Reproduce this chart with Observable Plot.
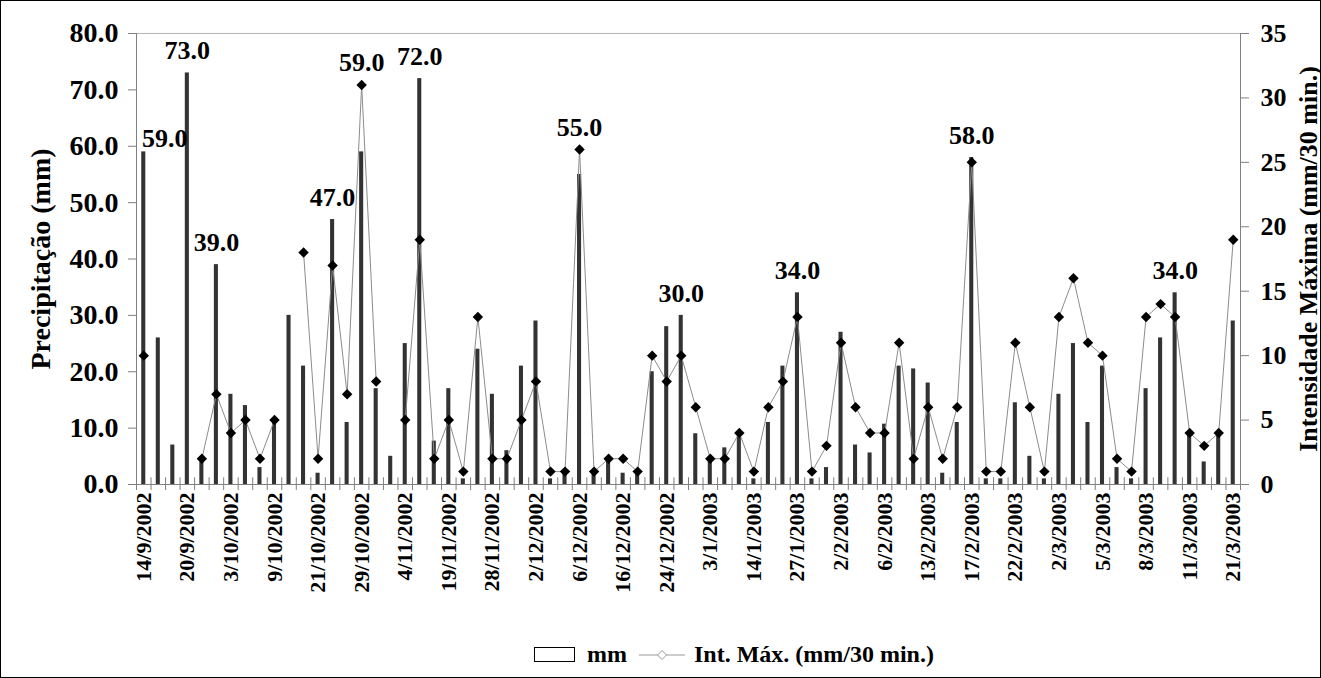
<!DOCTYPE html>
<html><head><meta charset="utf-8">
<script src="https://cdn.jsdelivr.net/npm/d3@7"></script>
<script src="https://cdn.jsdelivr.net/npm/@observablehq/plot@0.6"></script>
<style>
html,body{margin:0;padding:0;background:#fff;}
#frame{position:relative;width:1321px;height:678px;overflow:hidden;font-family:"Liberation Serif","Times New Roman",serif;background:#fff;}
#chart svg{display:block;}
#border{position:absolute;left:0;top:0;width:1321px;height:678px;box-sizing:border-box;border:1px solid #000;pointer-events:none;}
#legend{position:absolute;left:533px;top:641px;display:flex;align-items:center;font-weight:bold;font-size:24px;color:#000;white-space:nowrap;}
#legend svg{display:block;}
</style></head><body>
<div id="frame"><div id="chart"></div><div id="legend"></div><div id="border"></div></div>
<script>
// Precipitação (mm) per event
const mm = [59,26,7,73,4,39,16,14,3,11,30,21,2,47,11,59,17,5,25,72,7.7,17,1,24,16,6,21,29,1,2,55,2,4,2,2,20,28,30,9,4,6.5,9,1,11,21,34,1,3,27,7,5.6,10.7,21,20.5,18,2,11,58,1,1,14.5,5,1,16,25,11,21,3,1,17,26,34,9,4,9,29];
// Int. Máx. (mm/30 min.) per event (null = no value)
const intensity = [10,null,null,null,2,7,4,5,2,5,null,18,2,17,7,31,8,null,5,19,2,5,1,13,2,2,5,8,1,1,26,1,2,2,1,10,8,10,6,2,2,4,1,6,8,13,1,3,11,6,4,4,11,2,6,2,6,25,1,1,11,6,1,13,16,11,10,2,1,13,14,13,4,3,4,19];
// category labels shown (every 3rd event)
const dateLabels = ["14/9/2002","20/9/2002","3/10/2002","9/10/2002","21/10/2002","29/10/2002","4/11/2002","19/11/2002","28/11/2002","2/12/2002","6/12/2002","16/12/2002","24/12/2002","3/1/2003","14/1/2003","27/1/2003","2/2/2003","6/2/2003","13/2/2003","17/2/2003","22/2/2003","2/3/2003","5/3/2003","8/3/2003","11/3/2003","21/3/2003"];
const labelStep = 3;
const labeledBars = [0,3,5,13,15,19,30,37,45,57,71];
const leftTicks = [0,10,20,30,40,50,60,70,80];
const rightTicks = [0,5,10,15,20,25,30,35];
const legendItems = ["mm","Int. Máx. (mm/30 min.)"];

const mmMax = 80, intMax = 35;
const k = mmMax / intMax;
const idx = d3.range(mm.length);
const pts = idx.filter(i => intensity[i] != null);
const bounds = d3.range(mm.length + 1).map(i => i - 0.5);
const axisGray = "#808080";
const labelTop = i => Math.max(mm[i], (intensity[i] ?? 0) * k);
const firstLabel = labeledBars.filter(i => i === 0);
const otherLabels = labeledBars.filter(i => i !== 0);

const chart = Plot.plot({
  width: 1321, height: 635,
  marginLeft: 136, marginRight: 81, marginTop: 33, marginBottom: 151,
  style: {fontFamily: '"Liberation Serif", "Times New Roman", serif', fontWeight: "bold", fontSize: "25px", color: "#000", background: "transparent", overflow: "visible"},
  x: {type: "linear", domain: [-0.5, mm.length - 0.5]},
  y: {domain: [0, mmMax]},
  marks: [
    Plot.ruleY([mmMax], {stroke: "#b4b4b4"}),
    Plot.rectY(idx, {x1: i => i - 0.14, x2: i => i + 0.14, y1: 0, y2: i => mm[i], fill: "#333"}),
    Plot.axisX(bounds, {tickSize: 6, tickFormat: () => "", stroke: axisGray, label: null}),
    Plot.ruleX(bounds, {y1: 0, y2: 1.2, stroke: axisGray}),
    Plot.axisX(d3.range(0, mm.length, labelStep), {tickSize: 0, tickPadding: 8, tickRotate: -90, tickFormat: i => dateLabels[i / labelStep], fontSize: 22, fontWeight: "bold", label: null}),
    Plot.axisY(leftTicks, {anchor: "left", tickSize: 8, tickPadding: 10, tickFormat: d => d.toFixed(1), fontSize: 28, fontWeight: "bold", stroke: axisGray, label: "Precipitação (mm)", labelAnchor: "center", labelOffset: 106, labelArrow: false}),
    Plot.axisY(rightTicks.map(v => v * k), {anchor: "right", tickSize: 8, tickPadding: 12, tickFormat: d => String(Math.round(d / k)), fontSize: 26, fontWeight: "bold", stroke: axisGray, label: "Intensidade Máxima (mm/30 min.)", labelAnchor: "center", labelOffset: 76, labelArrow: false}),
    Plot.ruleX([-0.5, mm.length - 0.5], {stroke: axisGray}),
    Plot.ruleY([0], {stroke: axisGray}),
    Plot.line(idx, {x: i => i, y: i => intensity[i] == null ? NaN : intensity[i] * k, stroke: "#8c8c8c", strokeWidth: 1}),
    Plot.dot(pts, {x: i => i, y: i => intensity[i] * k, symbol: "diamond2", r: 4.7, fill: "#000", stroke: "none"}),
    Plot.text(otherLabels, {x: i => i, y: labelTop, text: i => mm[i].toFixed(1), dy: -22, fontSize: 26, fontWeight: "bold", fill: "#000"}),
    Plot.text(firstLabel, {x: i => i, y: labelTop, text: i => mm[i].toFixed(1), dx: 21, dy: -13, fontSize: 26, fontWeight: "bold", fill: "#000"})
  ]
});
document.getElementById("chart").appendChild(chart);

const lg = document.getElementById("legend");
lg.innerHTML =
  `<svg width="44" height="18"><rect x="1.5" y="1.5" width="40" height="14" fill="#fff" stroke="#000"/></svg>` +
  `<span style="margin:0 12px 0 10px">${legendItems[0]}</span>` +
  `<svg width="46" height="18"><line x1="0" y1="9" x2="46" y2="9" stroke="#999"/><path d="M23 4.5 L27.5 9 L23 13.5 L18.5 9 Z" fill="#fff" stroke="#999"/></svg>` +
  `<span style="margin-left:9px">${legendItems[1]}</span>`;
</script>
</body></html>
